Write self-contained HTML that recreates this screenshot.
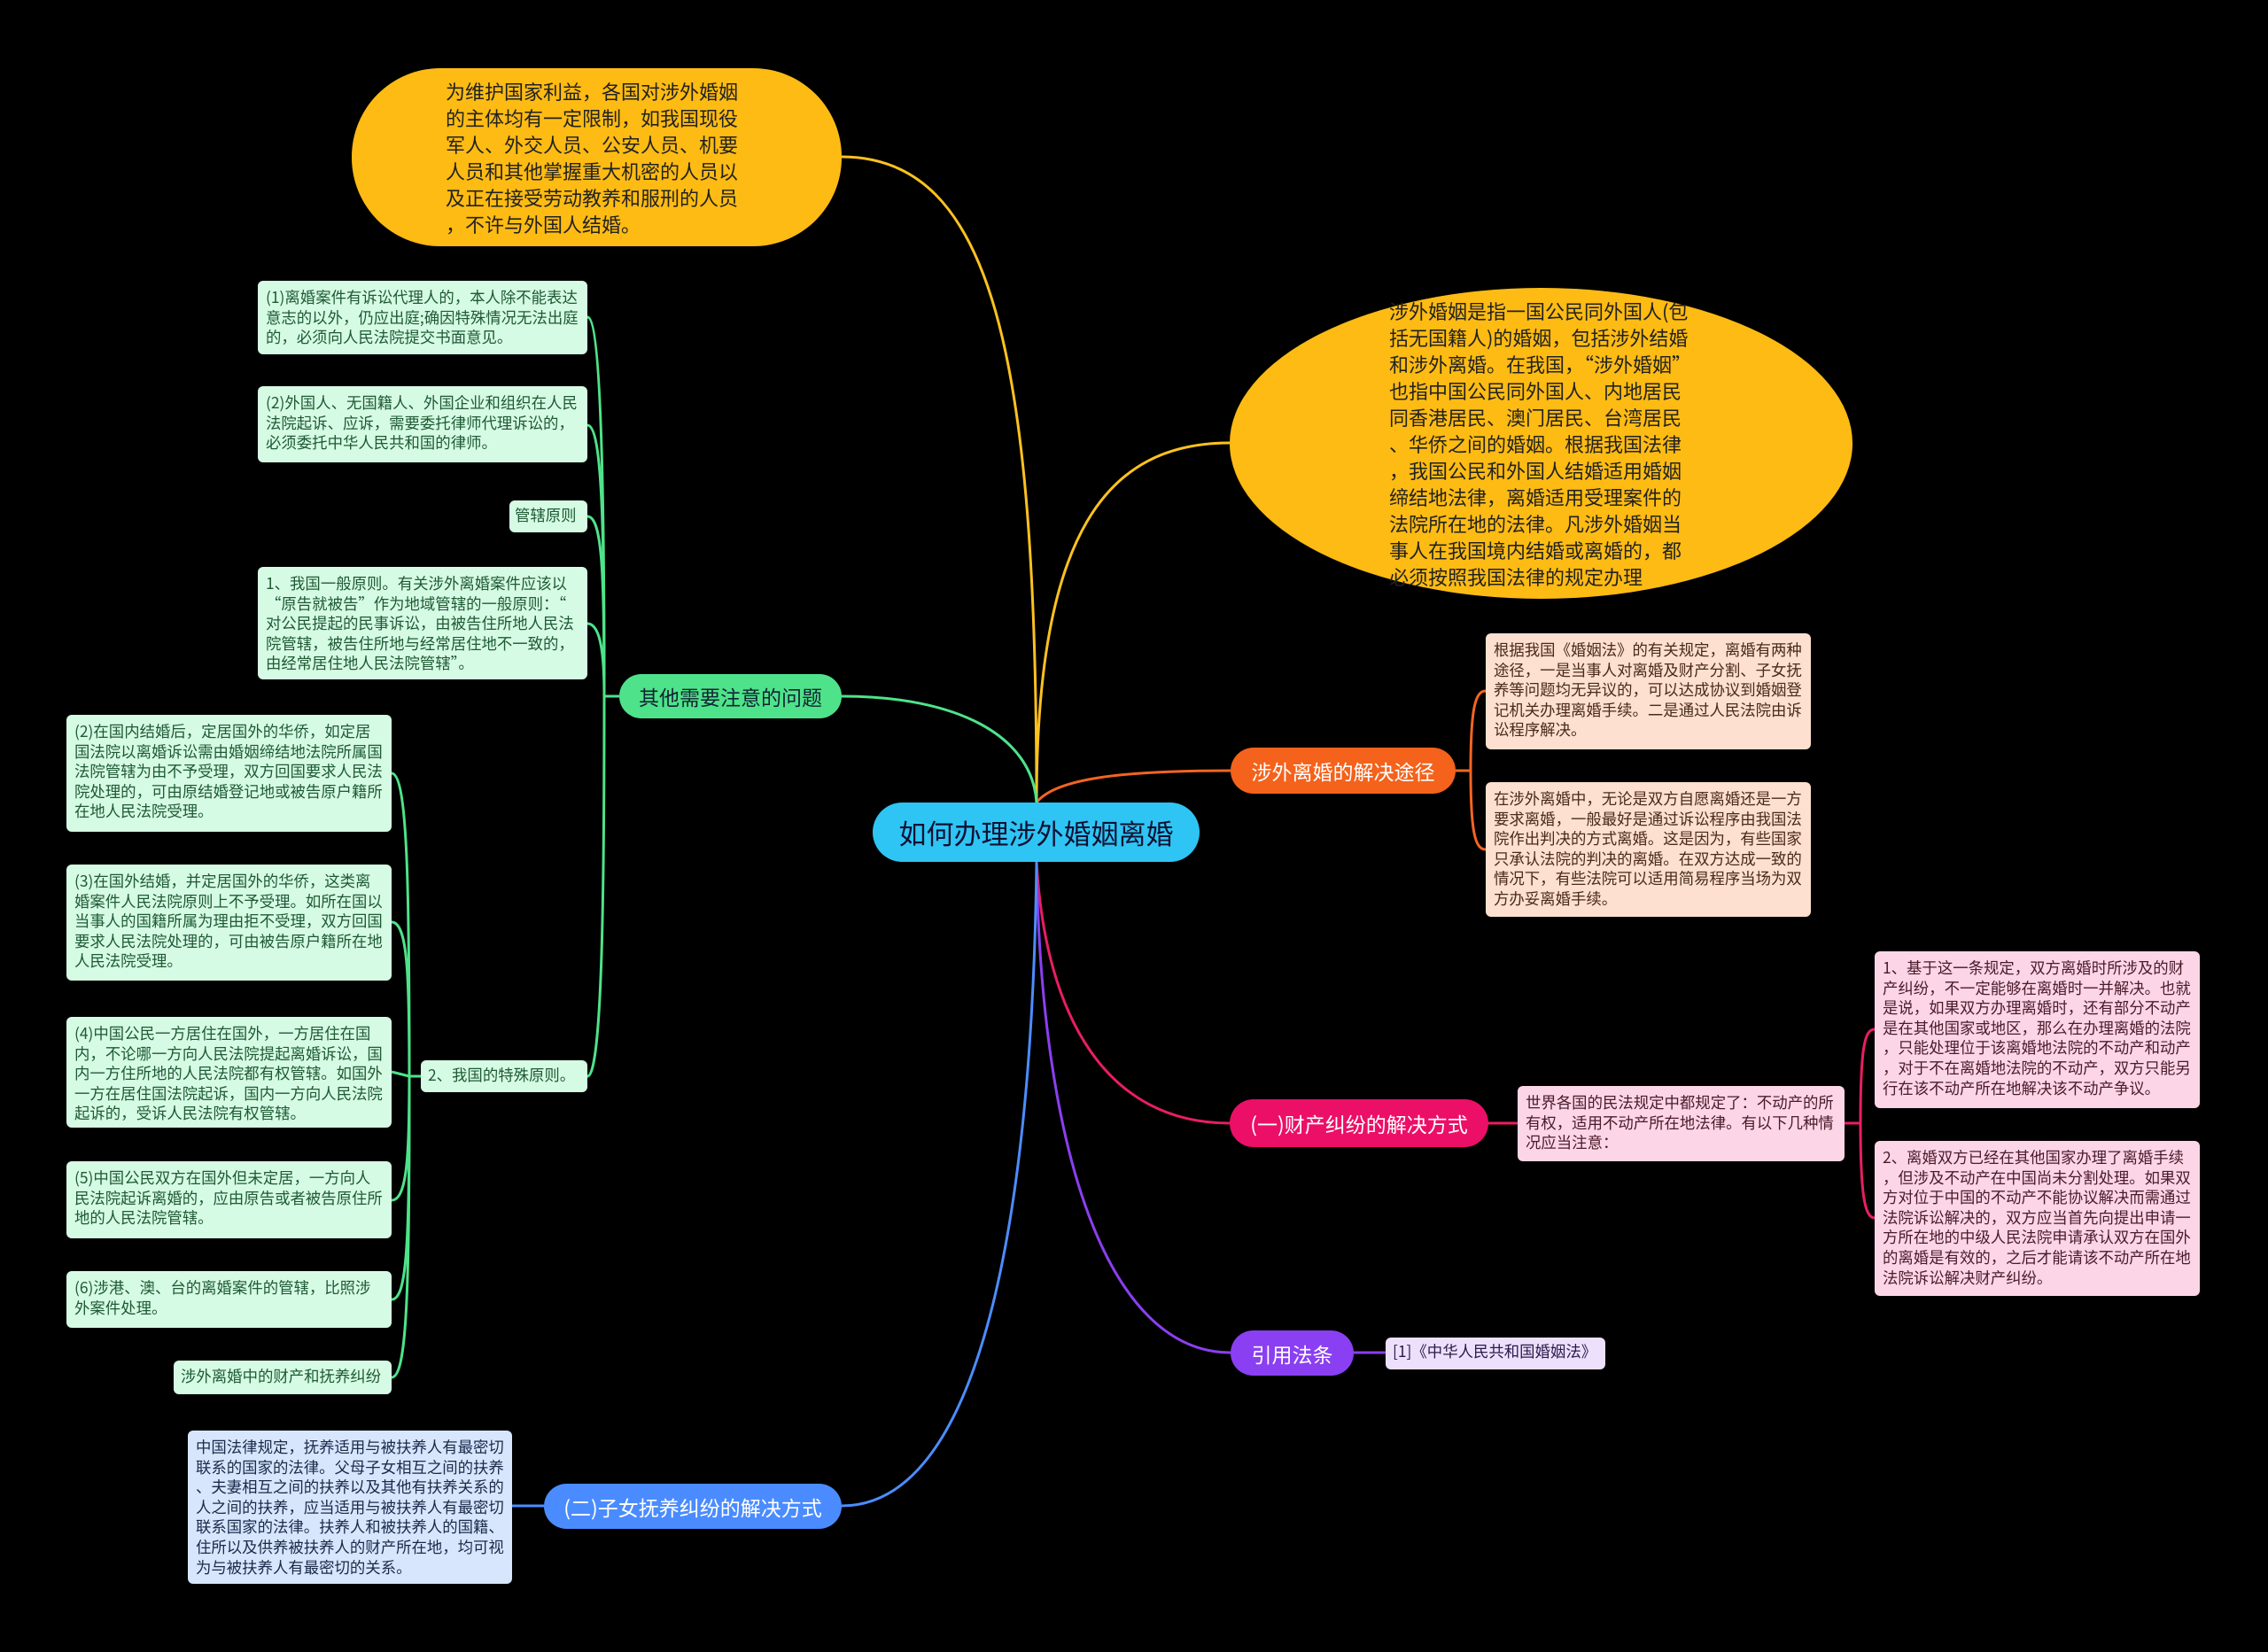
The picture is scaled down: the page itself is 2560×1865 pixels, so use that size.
<!DOCTYPE html>
<html><head><meta charset="utf-8"><style>
body{margin:0;width:2560px;height:1865px;background:#000;position:relative;overflow:hidden;font-family:"Noto Sans CJK SC","Liberation Sans",sans-serif}
.n{position:absolute;box-sizing:border-box;line-break:anywhere}
.b{font-size:17.4px;line-height:22.6px;padding:8px 9px;border-radius:6px;color:#333}
.g{background:#d6fbe4;color:#1e5a34}
.o{background:#fde0cf;color:#4a2a1a}
.p{background:#fcd6e6;color:#4a1a2a}
.bl{background:#d8e6fd;color:#1a2a4a}
.v{background:#ece0fd;color:#2a1a4a}
.pill{border-radius:28px;display:flex;align-items:center;justify-content:center;color:#fff;font-size:23px}
.ell{background:#fdbb13;color:#222;font-size:22px;line-height:30px;display:flex;align-items:center;justify-content:center}
</style></head><body>
<svg width="2560" height="1865" style="position:absolute;left:0;top:0" fill="none" stroke-width="3">
<path d="M1170 906 C1170 400 1120 177 950 177" stroke="#fdc21f"/>
<path d="M1170 906 C1170 600 1250 500 1388 500" stroke="#fdc21f"/>
<path d="M1170 906 C1190 880 1260 870 1389 870" stroke="#f26522"/>
<path d="M1170 973 C1180 1150 1250 1268 1388 1268" stroke="#e91e63"/>
<path d="M1170 973 C1175 1300 1250 1527 1389 1527" stroke="#8b3ff0"/>
<path d="M1170 973 C1165 1400 1100 1700 950 1700" stroke="#4c8dff"/>
<path d="M1170 906 C1165 830 1080 786 950 786" stroke="#4ee38a"/>
<g stroke="#4ee38a"><path d="M699 786 L682 786"/><path d="M682 786 C682 600 680 358 663 358"/><path d="M682 786 C682 600 680 480 663 480"/><path d="M682 786 C682 650 680 583 663 583"/><path d="M682 786 C682 750 680 704 663 704"/><path d="M682 786 C682 1000 680 1215 663 1215"/></g>
<g stroke="#4ee38a"><path d="M475 1215 L462 1215"/><path d="M462 1215 C462 1000 460 873 442 873"/><path d="M462 1215 C462 1100 460 1041 442 1041"/><path d="M462 1215 L442 1210"/><path d="M462 1215 C462 1300 460 1355 442 1355"/><path d="M462 1215 C462 1400 460 1467 442 1467"/><path d="M462 1215 C462 1450 460 1555 442 1555"/></g>
<g stroke="#f26522"><path d="M1643 870 L1660 870"/><path d="M1660 870 C1660 800 1665 780 1677 780"/><path d="M1660 870 C1660 940 1665 959 1677 959"/></g>
<path d="M1680 1268 L1713 1268" stroke="#e91e63"/>
<g stroke="#e91e63"><path d="M2082 1268 L2100 1268"/><path d="M2100 1268 C2100 1180 2105 1162 2116 1162"/><path d="M2100 1268 C2100 1350 2105 1375 2116 1375"/></g>
<path d="M1528 1527 L1564 1527" stroke="#8b3ff0"/>
<path d="M614 1700 L578 1700" stroke="#4c8dff"/>
</svg>

<div class="n pill" style="left:985px;top:906px;width:369px;height:67px;border-radius:34px;background:#2ec5f4;color:#113;font-size:31px">如何办理涉外婚姻离婚</div>

<div class="n ell" style="left:397px;top:77px;width:553px;height:201px;border-radius:100px;padding:0 106px">为维护国家利益，各国对涉外婚姻的主体均有一定限制，如我国现役军人、外交人员、公安人员、机要人员和其他掌握重大机密的人员以及正在接受劳动教养和服刑的人员，不许与外国人结婚。</div>
<div class="n ell" style="left:1388px;top:325px;width:703px;height:351px;border-radius:50%;padding:0 180px">涉外婚姻是指一国公民同外国人(包括无国籍人)的婚姻，包括涉外结婚和涉外离婚。在我国，“涉外婚姻”也指中国公民同外国人、内地居民同香港居民、澳门居民、台湾居民、华侨之间的婚姻。根据我国法律，我国公民和外国人结婚适用婚姻缔结地法律，离婚适用受理案件的法院所在地的法律。凡涉外婚姻当事人在我国境内结婚或离婚的，都必须按照我国法律的规定办理</div>

<div class="n pill" style="left:1389px;top:844px;width:254px;height:52px;background:#f4621b">涉外离婚的解决途径</div>
<div class="n b o" style="left:1677px;top:715px;width:367px;height:131px">根据我国《婚姻法》的有关规定，离婚有两种途径，一是当事人对离婚及财产分割、子女抚养等问题均无异议的，可以达成协议到婚姻登记机关办理离婚手续。二是通过人民法院由诉讼程序解决。</div>
<div class="n b o" style="left:1677px;top:883px;width:367px;height:152px">在涉外离婚中，无论是双方自愿离婚还是一方要求离婚，一般最好是通过诉讼程序由我国法院作出判决的方式离婚。这是因为，有些国家只承认法院的判决的离婚。在双方达成一致的情况下，有些法院可以适用简易程序当场为双方办妥离婚手续。</div>

<div class="n pill" style="left:1388px;top:1241px;width:292px;height:54px;background:#ec0f67">(一)财产纠纷的解决方式</div>
<div class="n b p" style="left:1713px;top:1226px;width:369px;height:85px">世界各国的民法规定中都规定了：不动产的所有权，适用不动产所在地法律。有以下几种情况应当注意：</div>
<div class="n b p" style="left:2116px;top:1074px;width:367px;height:177px">1、基于这一条规定，双方离婚时所涉及的财产纠纷，不一定能够在离婚时一并解决。也就是说，如果双方办理离婚时，还有部分不动产是在其他国家或地区，那么在办理离婚的法院，只能处理位于该离婚地法院的不动产和动产，对于不在离婚地法院的不动产，双方只能另行在该不动产所在地解决该不动产争议。</div>
<div class="n b p" style="left:2116px;top:1288px;width:367px;height:175px">2、离婚双方已经在其他国家办理了离婚手续，但涉及不动产在中国尚未分割处理。如果双方对位于中国的不动产不能协议解决而需通过法院诉讼解决的，双方应当首先向提出申请一方所在地的中级人民法院申请承认双方在国外的离婚是有效的，之后才能请该不动产所在地法院诉讼解决财产纠纷。</div>

<div class="n pill" style="left:1389px;top:1502px;width:139px;height:51px;background:#8a3ff2">引用法条</div>
<div class="n b v" style="left:1564px;top:1510px;width:248px;height:36px;padding:5px 8px">[1]《中华人民共和国婚姻法》</div>

<div class="n pill" style="left:614px;top:1675px;width:336px;height:51px;background:#4a8cff">(二)子女抚养纠纷的解决方式</div>
<div class="n b bl" style="left:212px;top:1615px;width:366px;height:173px">中国法律规定，抚养适用与被扶养人有最密切联系的国家的法律。父母子女相互之间的扶养、夫妻相互之间的扶养以及其他有扶养关系的人之间的扶养，应当适用与被扶养人有最密切联系国家的法律。扶养人和被扶养人的国籍、住所以及供养被扶养人的财产所在地，均可视为与被扶养人有最密切的关系。</div>

<div class="n pill" style="left:699px;top:761px;width:251px;height:50px;background:#4ee38a;color:#123">其他需要注意的问题</div>
<div class="n b g" style="left:291px;top:317px;width:372px;height:83px">(1)离婚案件有诉讼代理人的，本人除不能表达意志的以外，仍应出庭;确因特殊情况无法出庭的，必须向人民法院提交书面意见。</div>
<div class="n b g" style="left:291px;top:436px;width:372px;height:86px">(2)外国人、无国籍人、外国企业和组织在人民法院起诉、应诉，需要委托律师代理诉讼的，必须委托中华人民共和国的律师。</div>
<div class="n b g" style="left:575px;top:565px;width:88px;height:36px;padding:6px 6px">管辖原则</div>
<div class="n b g" style="left:291px;top:640px;width:372px;height:127px">1、我国一般原则。有关涉外离婚案件应该以“原告就被告”作为地域管辖的一般原则：“对公民提起的民事诉讼，由被告住所地人民法院管辖，被告住所地与经常居住地不一致的，由经常居住地人民法院管辖”。</div>
<div class="n b g" style="left:475px;top:1197px;width:188px;height:36px;padding:6px 8px">2、我国的特殊原则。</div>
<div class="n b g" style="left:75px;top:807px;width:367px;height:132px">(2)在国内结婚后，定居国外的华侨，如定居国法院以离婚诉讼需由婚姻缔结地法院所属国法院管辖为由不予受理，双方回国要求人民法院处理的，可由原结婚登记地或被告原户籍所在地人民法院受理。</div>
<div class="n b g" style="left:75px;top:976px;width:367px;height:131px">(3)在国外结婚，并定居国外的华侨，这类离婚案件人民法院原则上不予受理。如所在国以当事人的国籍所属为理由拒不受理，双方回国要求人民法院处理的，可由被告原户籍所在地人民法院受理。</div>
<div class="n b g" style="left:75px;top:1148px;width:367px;height:125px">(4)中国公民一方居住在国外，一方居住在国内，不论哪一方向人民法院提起离婚诉讼，国内一方住所地的人民法院都有权管辖。如国外一方在居住国法院起诉，国内一方向人民法院起诉的，受诉人民法院有权管辖。</div>
<div class="n b g" style="left:75px;top:1311px;width:367px;height:87px">(5)中国公民双方在国外但未定居，一方向人民法院起诉离婚的，应由原告或者被告原住所地的人民法院管辖。</div>
<div class="n b g" style="left:75px;top:1435px;width:367px;height:64px">(6)涉港、澳、台的离婚案件的管辖，比照涉外案件处理。</div>
<div class="n b g" style="left:196px;top:1536px;width:246px;height:38px;padding:7px 8px">涉外离婚中的财产和抚养纠纷</div>
</body></html>
